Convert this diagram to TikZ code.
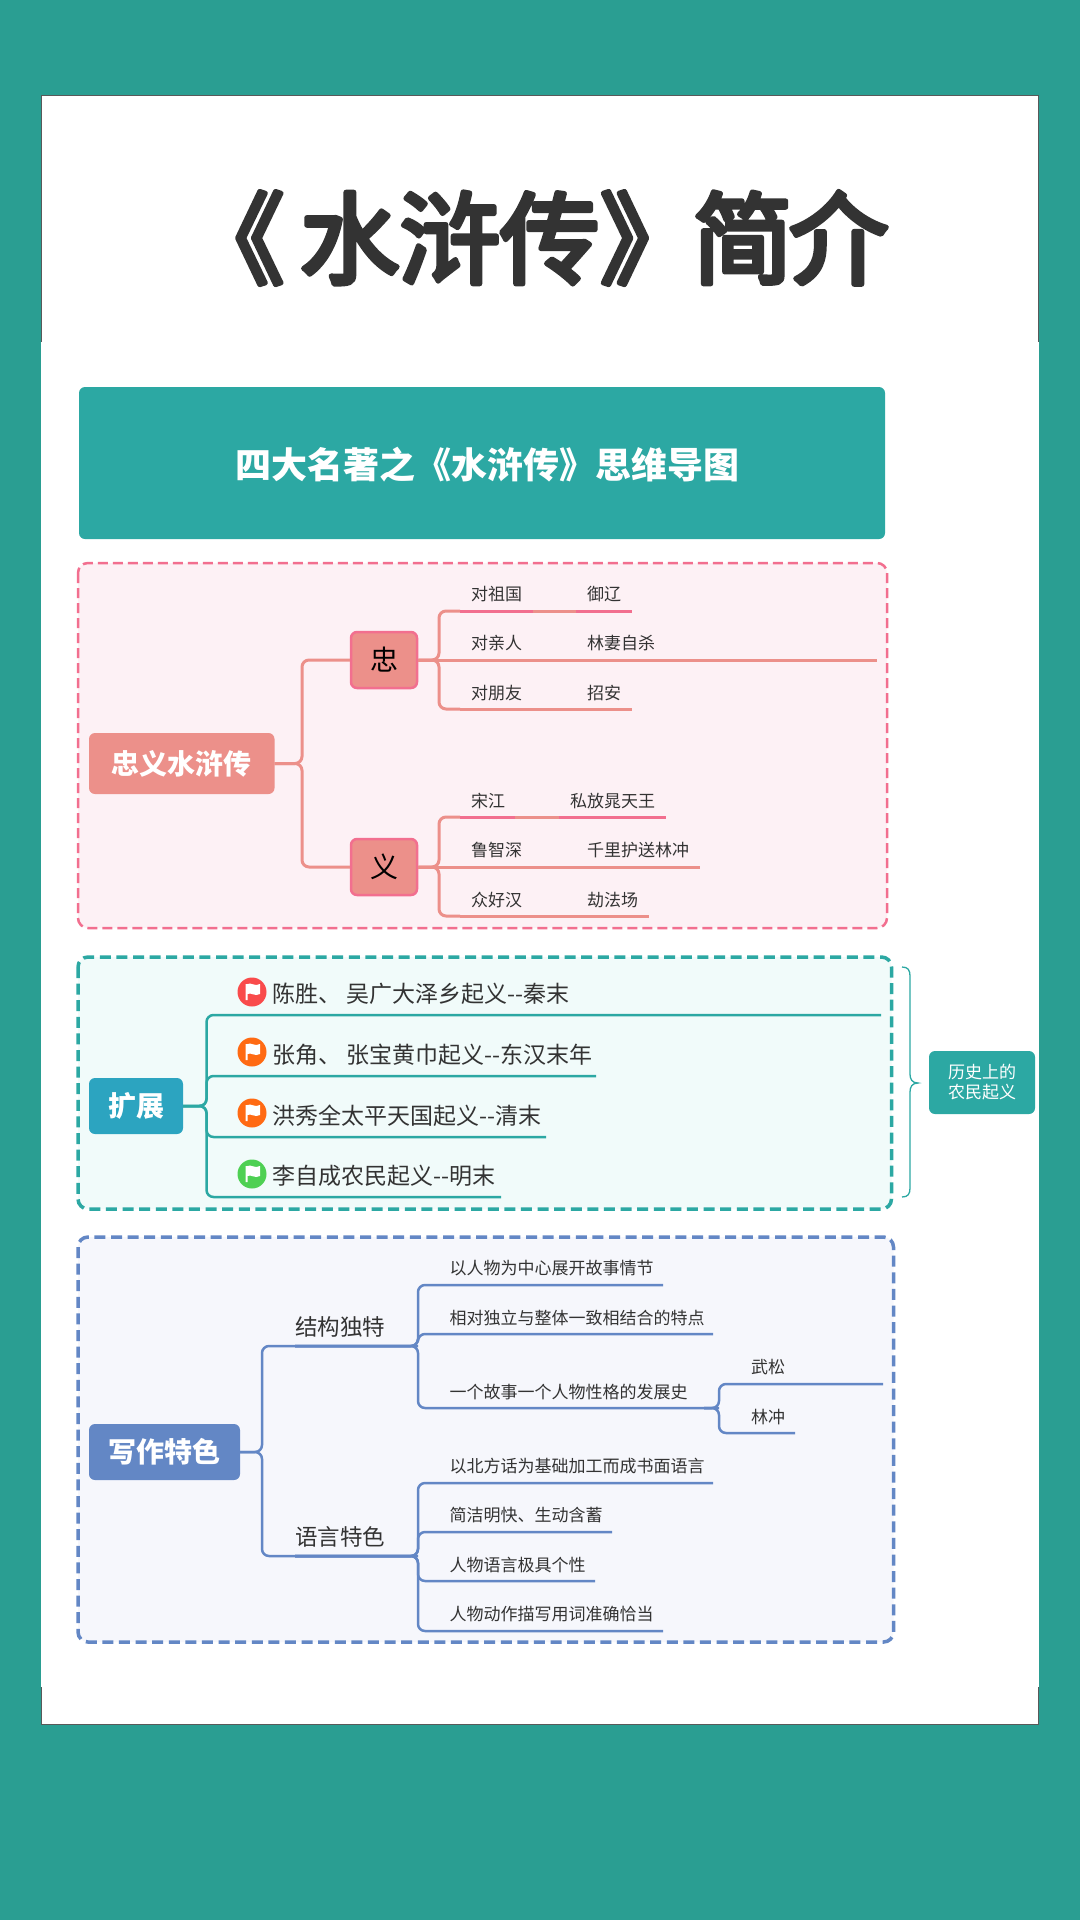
\documentclass[tikz,border=0pt]{standalone}
\usepackage{fontspec}
\setmainfont{Noto Sans CJK SC}
\definecolor{bgteal}{HTML}{2A9E92}
\definecolor{teal}{HTML}{2CA8A3}
\definecolor{ink}{HTML}{333333}
\definecolor{salmon}{HTML}{EC908A}
\definecolor{rose}{HTML}{F26F8F}
\definecolor{pinkbg}{HTML}{FDF1F5}
\definecolor{mintbg}{HTML}{F1FBFA}
\definecolor{bluebg}{HTML}{F6F7FC}
\definecolor{steel}{HTML}{6387C5}
\definecolor{sky}{HTML}{2CA4C0}
\definecolor{flagred}{HTML}{F94B4B}
\definecolor{flagorange}{HTML}{FF6A13}
\definecolor{flaggreen}{HTML}{4ED053}
\newcommand{\fs}[1]{\fontsize{#1}{#1}\selectfont}
\newcommand{\roundink}[1]{\special{pdf:code q 2 Tr 5 w 1 j 1 J 0.2 0.2 0.2 RG}#1\special{pdf:code Q}}
\tikzset{
  panel/.style={rounded corners=10,dashed,dash pattern=on 10pt off 5pt},
  rootbox/.style={rounded corners=6,inner sep=0,text=white,font=\fs{28}\bfseries,minimum height=56},
  zbox/.style={rounded corners=6,inner sep=0,draw=rose,line width=2.5,fill=salmon,text=black,font=\fs{28},minimum width=66,minimum height=56},
  leaf/.style={anchor=west,inner sep=0,text=ink,font=\fs{17}},
  kid/.style={anchor=west,inner sep=0,text=ink,font=\fs{22.5}},
  rebel/.style={anchor=west,inner sep=0,text=ink,font=\fs{23}},
  sal/.style={draw=salmon,line width=3},
  ros/.style={draw=rose,line width=3},
  tl/.style={draw=teal,line width=2.5},
  bl/.style={draw=steel,line width=2.5},
  curvy/.style={rounded corners=7},
}
\newcommand{\flagdot}[4]{%
  \node[circle,fill=#3,inner sep=0,minimum size=29] (#4) at (#1,#2) {};
  \fill[white] (#1-6.5,#2-8) -- (#1-4.5,#2-8) .. controls (#1-1,#2-10) and (#1+3,#2-5) .. (#1+8,#2-8) -- (#1+8,#2+2) .. controls (#1+3,#2+5) and (#1-1,#2) .. (#1-4.5,#2+2) -- (#1-4.5,#2+8) -- (#1-6.5,#2+8) -- cycle;
}
\begin{document}
\begin{tikzpicture}[x=1pt,y=-1pt]
\useasboundingbox (0,0) rectangle (1080,1920);
\fill[bgteal] (0,0) rectangle (1080,1920);
% card
\filldraw[fill=white,draw=black!65,line width=0.8] (41.5,95) rectangle (1038,1724);
\fill[white] (41,342) rectangle (1039,1687);
% title
\node[inner sep=0,anchor=west,text=ink,font=\fs{100}] (title) at (184.5,238) {\roundink{《\kern15pt 水浒传》\kern-7pt 简\kern-4pt 介}};
% header
\node[rounded corners=6,fill=teal,inner sep=0,minimum width=806,minimum height=152,text=white,font=\fs{36}\bfseries] (header) at (482,463) {};
\node[inner sep=0,text=white,font=\fs{36}\bfseries] (headtext) at (487,465) {四大名著之《水浒传》思维导图};

% ===== panel 1
\filldraw[panel,fill=pinkbg,draw=rose,line width=2.5] (78,563) rectangle (887,928);
\node[rootbox,fill=salmon,minimum width=185.5,minimum height=61] (r1) at (181.75,763.5) {忠义水浒传};
\node[zbox] (zhong) at (384,660) {忠};
\node[zbox] (yi) at (384,867) {义};
\draw[sal,curvy] (r1.east) -- (302,763.5) |- (zhong.west);
\draw[sal,curvy] (r1.east) -- (302,763.5) |- (yi.west);
% zhong leaves
\node[leaf] (a1) at (471,594) {对祖国};
\node[leaf] (a2) at (471,643) {对亲人};
\node[leaf] (a3) at (471,693) {对朋友};
\node[leaf] (b1) at (587,594) {御辽};
\node[leaf] (b2) at (587,643) {林妻自杀};
\node[leaf] (b3) at (587,693) {招安};
\coordinate (a1s) at (460,611); \coordinate (a1e) at (533,611); \coordinate (b1s) at (576,611); \coordinate (b1e) at (632,611);
\coordinate (a2s) at (460,660); \coordinate (b2e) at (877,660);
\coordinate (a3s) at (460,709); \coordinate (b3e) at (632,709);
\draw[sal,curvy] (zhong.east) -- (439,660) |- (a1s);
\draw[sal,curvy] (zhong.east) -- (439,660) |- (a3s);
\draw[sal] (zhong.east) -- (a2s) -- (b2e);
\draw[sal] (a3s) -- (b3e);
\draw[sal] (a1e) -- (b1s);
\draw[ros] (a1s) -- (a1e);
\draw[ros] (b1s) -- (b1e);
% yi leaves
\node[leaf] (c1) at (471,801) {宋江};
\node[leaf] (c2) at (471,850.5) {鲁智深};
\node[leaf] (c3) at (471,900) {众好汉};
\node[leaf] (d1) at (570,801) {私放晁天王};
\node[leaf] (d2) at (587,850.5) {千里护送林冲};
\node[leaf] (d3) at (587,900) {劫法场};
\coordinate (c1s) at (460,817); \coordinate (c1e) at (515,817); \coordinate (d1s) at (559,817); \coordinate (d1e) at (666,817);
\coordinate (c2s) at (460,867); \coordinate (d2e) at (700,867);
\coordinate (c3s) at (460,916); \coordinate (d3e) at (649,916);
\draw[sal,curvy] (yi.east) -- (439,867) |- (c1s);
\draw[sal,curvy] (yi.east) -- (439,867) |- (c3s);
\draw[sal] (yi.east) -- (c2s) -- (d2e);
\draw[sal] (c3s) -- (d3e);
\draw[sal] (c1e) -- (d1s);
\draw[ros] (c1s) -- (c1e);
\draw[ros] (d1s) -- (d1e);

% ===== panel 2
\filldraw[panel,fill=mintbg,draw=teal,line width=3.5,dash pattern=on 11pt off 5.6pt] (78,957) rectangle (891.5,1209);
\node[rootbox,fill=sky,minimum width=94,minimum height=56] (r2) at (136,1106) {扩展};
\coordinate (e1) at (881,1015); \coordinate (e2) at (596,1076); \coordinate (e3) at (546,1137); \coordinate (e4) at (501,1197);
\draw[tl,curvy] (r2.east) -- (206.5,1106) |- (e1);
\draw[tl,curvy] (r2.east) -- (206.5,1106) |- (e2);
\draw[tl,curvy] (r2.east) -- (206.5,1106) |- (e3);
\draw[tl,curvy] (r2.east) -- (206.5,1106) |- (e4);
\flagdot{252}{992}{flagred}{f1}
\flagdot{252}{1052}{flagorange}{f2}
\flagdot{252}{1113}{flagorange}{f3}
\flagdot{252}{1174}{flaggreen}{f4}
\node[rebel] (t1) at (272,994) {陈胜、 吴广大泽乡起义{-}{-}秦末};
\node[rebel] (t2) at (272,1055) {张角、 张宝黄巾起义{-}{-}东汉末年};
\node[rebel] (t3) at (272,1115.5) {洪秀全太平天国起义{-}{-}清末};
\node[rebel] (t4) at (272,1175.5) {李自成农民起义{-}{-}明末};
% brace and note
\node[rounded corners=6,fill=teal,inner sep=0,minimum width=106,minimum height=63,text=white,align=center,font=\fs{17}] (note) at (982,1082.5) {历史上的\\[3pt]农民起义};
\coordinate (brtop) at (902,967); \coordinate (brbot) at (902,1197); \coordinate (brtip) at (918,1083);
\draw[draw=teal,line width=1.3] (brtop) .. controls (908,967) and (910,970) .. (910,976) -- (910,1074) .. controls (910,1079) and (912,1083) .. (brtip) .. controls (912,1083) and (910,1087) .. (910,1092) -- (910,1188) .. controls (910,1194) and (908,1197) .. (brbot);

% ===== panel 3
\filldraw[panel,fill=bluebg,draw=steel,line width=3.5,dash pattern=on 11pt off 5.6pt] (78,1237) rectangle (893.5,1642);
\node[rootbox,fill=steel,minimum width=151,minimum height=56] (r3) at (164.5,1452) {写作特色};
\node[kid] (k1) at (295,1327) {结构独特};
\node[kid] (k2) at (295,1537) {语言特色};
\coordinate (k1s) at (295,1346); \coordinate (k1e) at (418,1346);
\coordinate (k2s) at (295,1556); \coordinate (k2e) at (418,1556);
\draw[bl,curvy] (r3.east) -- (262,1452) |- (k1s) -- (k1e);
\draw[bl,curvy] (r3.east) -- (262,1452) |- (k2s) -- (k2e);
% structure leaves
\node[leaf] (g1) at (449.5,1268) {以人物为中心展开故事情节};
\node[leaf] (g2) at (449.5,1318) {相对独立与整体一致相结合的特点};
\node[leaf] (g3) at (449.5,1392) {一个故事一个人物性格的发展史};
\coordinate (g1e) at (663,1285); \coordinate (g2e) at (713,1334); \coordinate (g3e) at (719,1408);
\draw[bl,curvy] (k1s) -- (418,1346) |- (g1e);
\draw[bl,curvy] (k1s) -- (418,1346) |- (g2e);
\draw[bl,curvy] (k1s) -- (418,1346) |- (g3e);
\node[leaf] (w1) at (751,1367) {武松};
\node[leaf] (w2) at (751,1417) {林冲};
\coordinate (w1e) at (883,1384); \coordinate (w2e) at (795,1433);
\draw[bl,curvy] (g3e) ++(-15,0) -- (g3e) |- (w1e);
\draw[bl,curvy] (g3e) ++(-15,0) -- (g3e) |- (w2e);
% language leaves
\node[leaf] (h1) at (449.5,1466) {以北方话为基础加工而成书面语言};
\node[leaf] (h2) at (449.5,1515) {简洁明快、生动含蓄};
\node[leaf] (h3) at (449.5,1565) {人物语言极具个性};
\node[leaf] (h4) at (449.5,1614) {人物动作描写用词准确恰当};
\coordinate (h1e) at (713,1483); \coordinate (h2e) at (612,1532); \coordinate (h3e) at (595,1581); \coordinate (h4e) at (663,1631);
\draw[bl,curvy] (k2s) -- (418,1556) |- (h1e);
\draw[bl,curvy] (k2s) -- (418,1556) |- (h2e);
\draw[bl,curvy] (k2s) -- (418,1556) |- (h3e);
\draw[bl,curvy] (k2s) -- (418,1556) |- (h4e);
\end{tikzpicture}
\end{document}
